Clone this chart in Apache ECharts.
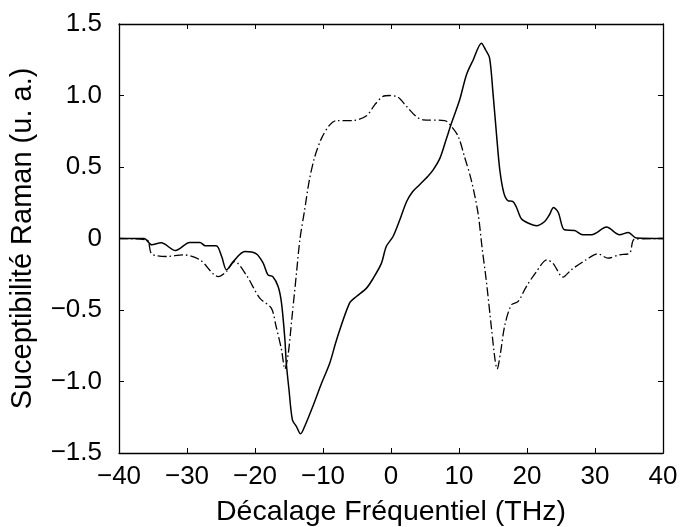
<!DOCTYPE html>
<html>
<head>
<meta charset="utf-8">
<script src="https://cdn.jsdelivr.net/npm/echarts@6/dist/echarts.min.js"></script>
<style>
html,body{margin:0;padding:0;background:#fff;}
#chart{width:682px;height:527px;}
</style>
</head>
<body>
<div id="chart"></div>
<script>
// Solid curve
const xSolid = [-40, -36.3, -35.2, -33.8, -31.7, -29.6, -28.1, -27.3, -25.7, -24.9, -24.2, -23.2, -21.5, -19.8, -18.8, -18.1, -17.4, -16.6, -16.1, -15.6, -15.4, -15.0, -14.5, -13.9, -13.3, -12.7, -11.5, -10.2, -9.0, -8.0, -6.1, -5.1, -3.6, -2.6, -1.4, -0.7, 0.3, 1.3, 2.3, 3.2, 4.2, 5.4, 6.2, 7.2, 8.1, 8.9, 10.1, 11.1, 12.1, 13.3, 13.9, 14.5, 15.0, 15.5, 16.0, 16.6, 17.2, 17.9, 18.4, 19.2, 20.4, 21.4, 22.6, 23.3, 23.9, 24.6, 25.5, 27.0, 28.2, 29.5, 31.7, 33.6, 34.9, 36.1, 40];
const ySolid = [0, 0, -0.044, -0.03, -0.084, -0.028, -0.028, -0.051, -0.051, -0.126, -0.219, -0.161, -0.091, -0.107, -0.172, -0.254, -0.266, -0.336, -0.452, -0.708, -0.871, -1.058, -1.268, -1.315, -1.366, -1.315, -1.175, -1.011, -0.871, -0.708, -0.452, -0.406, -0.347, -0.277, -0.172, -0.056, 0.014, 0.131, 0.259, 0.329, 0.376, 0.434, 0.48, 0.562, 0.69, 0.807, 0.97, 1.145, 1.25, 1.366, 1.32, 1.262, 1.017, 0.737, 0.48, 0.317, 0.264, 0.259, 0.224, 0.136, 0.103, 0.089, 0.119, 0.166, 0.217, 0.182, 0.061, 0.056, 0.026, 0.026, 0.08, 0.026, 0.042, 0.003, 0];
// Dash-dot curve
const xDash = [-40, -35.9, -35.2, -33.0, -30.6, -28.1, -25.4, -24.2, -23.0, -21.3, -19.3, -17.6, -16.9, -16.1, -15.6, -15.1, -14.6, -13.9, -13.4, -12.7, -12.0, -11.2, -10.2, -9.0, -8.0, -5.6, -3.6, -2.4, -1.2, -0.2, 1.0, 2.3, 3.7, 4.7, 7.9, 8.9, 9.9, 10.8, 11.8, 12.8, 13.4, 14.0, 14.8, 15.3, 15.6, 16.1, 16.7, 17.7, 18.7, 19.9, 21.4, 22.9, 23.8, 25.3, 26.5, 28.7, 30.4, 31.9, 33.6, 35.1, 35.8, 40];
const yDash = [0, -0.01, -0.107, -0.126, -0.114, -0.149, -0.266, -0.231, -0.161, -0.254, -0.417, -0.487, -0.615, -0.778, -0.913, -0.801, -0.569, -0.242, -0.009, 0.2, 0.41, 0.573, 0.702, 0.795, 0.825, 0.825, 0.858, 0.935, 0.993, 1.0, 0.989, 0.923, 0.853, 0.83, 0.825, 0.783, 0.713, 0.573, 0.41, 0.177, -0.067, -0.289, -0.638, -0.848, -0.913, -0.801, -0.615, -0.464, -0.44, -0.336, -0.231, -0.149, -0.172, -0.27, -0.219, -0.149, -0.107, -0.137, -0.114, -0.102, -0.005, 0];

const xTitle = 'Décalage Fréquentiel (THz)';
const yTitle = 'Suceptibilité Raman (u. a.)';

const FONT = '"Liberation Sans", Arial, sans-serif';
const minus = s => String(s).replace('-', '\u2212');

const chart = echarts.init(document.getElementById('chart'), null, {renderer: 'canvas'});
const axisLine = {show: true, onZero: false, lineStyle: {color: '#000', width: 1.3}};
const axisTick = {show: true, inside: true, length: 5, lineStyle: {color: '#000', width: 1}};
chart.setOption({
  animation: false,
  backgroundColor: '#fff',
  grid: {left: 119, right: 19, top: 24, bottom: 74, containLabel: false, outerBoundsMode: 'none'},
  xAxis: [{
    type: 'value', min: -40, max: 40, interval: 10, position: 'bottom',
    axisLine, axisTick, splitLine: {show: false},
    axisLabel: {color: '#000', fontSize: 26, fontFamily: FONT, margin: 11, formatter: v => minus(v)},
    name: xTitle, nameLocation: 'middle', nameGap: 45,
    nameTextStyle: {color: '#000', fontSize: 28.5, fontFamily: FONT}
  }, {
    type: 'value', min: -40, max: 40, interval: 10, position: 'top',
    axisLine, axisTick, splitLine: {show: false}, axisLabel: {show: false}
  }],
  yAxis: [{
    type: 'value', min: -1.5, max: 1.5, interval: 0.5, position: 'left',
    axisLine, axisTick, splitLine: {show: false},
    axisLabel: {color: '#000', fontSize: 26, fontFamily: FONT, margin: 17,
      formatter: v => v === 0 ? '0' : minus(v.toFixed(1))},
    name: yTitle, nameLocation: 'middle', nameGap: 82, nameRotate: 90,
    nameTextStyle: {color: '#000', fontSize: 29, fontFamily: FONT}
  }, {
    type: 'value', min: -1.5, max: 1.5, interval: 0.5, position: 'right',
    axisLine, axisTick, splitLine: {show: false}, axisLabel: {show: false}
  }],
  series: [{
    type: 'line', xAxisIndex: 0, yAxisIndex: 0, showSymbol: false, smooth: 0.3,
    data: xSolid.map((x, i) => [x, ySolid[i]]),
    lineStyle: {color: '#000', width: 1.5}
  }, {
    type: 'line', xAxisIndex: 0, yAxisIndex: 0, showSymbol: false, smooth: 0.3,
    data: xDash.map((x, i) => [x, yDash[i]]),
    lineStyle: {color: '#000', width: 1.3, type: [9, 3, 1.5, 3]}
  }]
});
</script>
</body>
</html>
